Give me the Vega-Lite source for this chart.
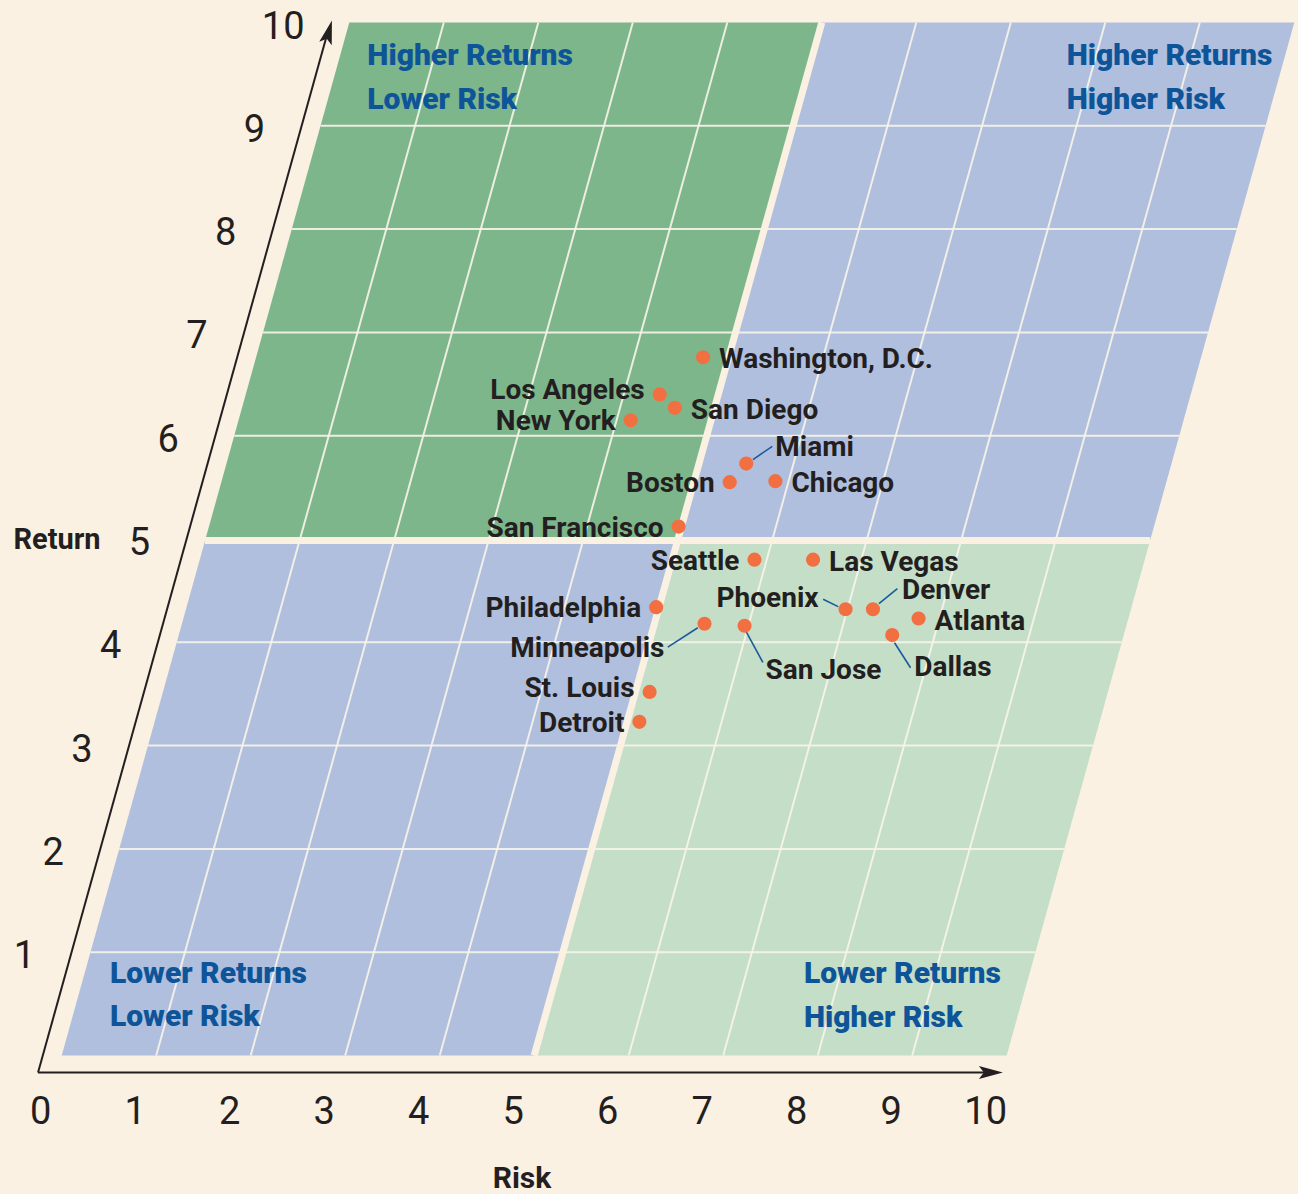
{
  "$schema": "https://vega.github.io/schema/vega-lite/v6.json",
  "width": 1298,
  "height": 1194,
  "autosize": {"type": "none"},
  "padding": 0,
  "background": "#faf1e2",
  "config": {"view": {"stroke": null}, "font": "Roboto, sans-serif"},
  "resolve": {"scale": {"shape": "independent"}},
  "datasets": {
    "quads": [
      {"q": "LL", "o": 0, "risk": 0, "ret": 0}, {"q": "LL", "o": 1, "risk": 5, "ret": 0}, {"q": "LL", "o": 2, "risk": 5, "ret": 5}, {"q": "LL", "o": 3, "risk": 0, "ret": 5},
      {"q": "LR", "o": 0, "risk": 5, "ret": 0}, {"q": "LR", "o": 1, "risk": 10, "ret": 0}, {"q": "LR", "o": 2, "risk": 10, "ret": 5}, {"q": "LR", "o": 3, "risk": 5, "ret": 5},
      {"q": "UL", "o": 0, "risk": 0, "ret": 5}, {"q": "UL", "o": 1, "risk": 5, "ret": 5}, {"q": "UL", "o": 2, "risk": 5, "ret": 10}, {"q": "UL", "o": 3, "risk": 0, "ret": 10},
      {"q": "UR", "o": 0, "risk": 5, "ret": 5}, {"q": "UR", "o": 1, "risk": 10, "ret": 5}, {"q": "UR", "o": 2, "risk": 10, "ret": 10}, {"q": "UR", "o": 3, "risk": 5, "ret": 10}
    ],
    "grid": [
      {"g": "v1", "risk": 1, "ret": 0}, {"g": "v1", "risk": 1, "ret": 10},
      {"g": "v2", "risk": 2, "ret": 0}, {"g": "v2", "risk": 2, "ret": 10},
      {"g": "v3", "risk": 3, "ret": 0}, {"g": "v3", "risk": 3, "ret": 10},
      {"g": "v4", "risk": 4, "ret": 0}, {"g": "v4", "risk": 4, "ret": 10},
      {"g": "v6", "risk": 6, "ret": 0}, {"g": "v6", "risk": 6, "ret": 10},
      {"g": "v7", "risk": 7, "ret": 0}, {"g": "v7", "risk": 7, "ret": 10},
      {"g": "v8", "risk": 8, "ret": 0}, {"g": "v8", "risk": 8, "ret": 10},
      {"g": "v9", "risk": 9, "ret": 0}, {"g": "v9", "risk": 9, "ret": 10},
      {"g": "h1", "risk": 0, "ret": 1}, {"g": "h1", "risk": 10, "ret": 1},
      {"g": "h2", "risk": 0, "ret": 2}, {"g": "h2", "risk": 10, "ret": 2},
      {"g": "h3", "risk": 0, "ret": 3}, {"g": "h3", "risk": 10, "ret": 3},
      {"g": "h4", "risk": 0, "ret": 4}, {"g": "h4", "risk": 10, "ret": 4},
      {"g": "h6", "risk": 0, "ret": 6}, {"g": "h6", "risk": 10, "ret": 6},
      {"g": "h7", "risk": 0, "ret": 7}, {"g": "h7", "risk": 10, "ret": 7},
      {"g": "h8", "risk": 0, "ret": 8}, {"g": "h8", "risk": 10, "ret": 8},
      {"g": "h9", "risk": 0, "ret": 9}, {"g": "h9", "risk": 10, "ret": 9}
    ],
    "gaps": [
      {"g": "v", "risk": 5, "ret": 0}, {"g": "v", "risk": 5, "ret": 10},
      {"g": "h", "risk": 0, "ret": 4.985}, {"g": "h", "risk": 10, "ret": 4.985}
    ],
    "axislines": [
      {"axis": "Risk", "o": 0, "risk": -0.2, "ret": -0.165}, {"axis": "Risk", "o": 1, "risk": 9.9, "ret": -0.165},
      {"axis": "Return", "o": 0, "risk": -0.2, "ret": -0.165}, {"axis": "Return", "o": 1, "risk": -0.2, "ret": 9.93}
    ],
    "arrows": [
      {"axis": "Risk", "risk": 10.01, "ret": -0.165},
      {"axis": "Return", "risk": -0.19, "ret": 10.02}
    ],
    "xticks": [
      {"v": 0}, {"v": 1}, {"v": 2}, {"v": 3}, {"v": 4}, {"v": 5}, {"v": 6}, {"v": 7}, {"v": 8}, {"v": 9}, {"v": 10}
    ],
    "yticks": [
      {"v": 1}, {"v": 2}, {"v": 3}, {"v": 4}, {"v": 5}, {"v": 6}, {"v": 7}, {"v": 8}, {"v": 9}, {"v": 10}
    ],
    "cities": [
      {"city": "Washington, D.C.", "risk": 4.73, "ret": 6.76},
      {"city": "Los Angeles", "risk": 4.38, "ret": 6.40},
      {"city": "San Diego", "risk": 4.58, "ret": 6.27},
      {"city": "New York", "risk": 4.15, "ret": 6.15},
      {"city": "Miami", "risk": 5.50, "ret": 5.73},
      {"city": "Boston", "risk": 5.38, "ret": 5.55},
      {"city": "Chicago", "risk": 5.86, "ret": 5.56},
      {"city": "San Francisco", "risk": 4.97, "ret": 5.12},
      {"city": "Seattle", "risk": 5.87, "ret": 4.80},
      {"city": "Las Vegas", "risk": 6.49, "ret": 4.80},
      {"city": "Phoenix", "risk": 6.98, "ret": 4.32},
      {"city": "Denver", "risk": 7.27, "ret": 4.32},
      {"city": "Atlanta", "risk": 7.78, "ret": 4.23},
      {"city": "Dallas", "risk": 7.55, "ret": 4.07},
      {"city": "Philadelphia", "risk": 4.97, "ret": 4.34},
      {"city": "Minneapolis", "risk": 5.53, "ret": 4.18},
      {"city": "San Jose", "risk": 5.96, "ret": 4.16},
      {"city": "St. Louis", "risk": 5.15, "ret": 3.52},
      {"city": "Detroit", "risk": 5.13, "ret": 3.23}
    ]
  },
  "layer": [
    {
      "data": {"name": "quads"},
      "mark": {"type": "line", "strokeWidth": 0, "interpolate": "linear-closed", "xOffset": {"expr": "datum.ret * 28.76"}},
      "encoding": {
        "x": {"field": "risk", "type": "quantitative", "scale": {"domain": [-0.6529, 13.0825], "nice": false, "zero": false}, "axis": null},
        "y": {"field": "ret", "type": "quantitative", "scale": {"domain": [-1.3408, 10.218], "nice": false, "zero": false}, "axis": null},
        "fill": {"field": "q", "type": "nominal", "scale": {"domain": ["LL", "LR", "UL", "UR"], "range": ["#b0bfdd", "#c4dec8", "#7db68b", "#b0bfdd"]}, "legend": null},
        "detail": {"field": "q"},
        "order": {"field": "o", "type": "quantitative"}
      }
    },
    {
      "data": {"name": "grid"},
      "mark": {"type": "line", "stroke": "#f8f4ea", "strokeWidth": 2, "opacity": 0.9, "xOffset": {"expr": "datum.ret * 28.76"}},
      "encoding": {
        "x": {"field": "risk", "type": "quantitative", "axis": null},
        "y": {"field": "ret", "type": "quantitative", "axis": null},
        "detail": {"field": "g"}
      }
    },
    {
      "data": {"name": "gaps"},
      "mark": {"type": "line", "stroke": "#faf1e2", "strokeWidth": 7, "xOffset": {"expr": "datum.ret * 28.76"}},
      "encoding": {
        "x": {"field": "risk", "type": "quantitative", "axis": null},
        "y": {"field": "ret", "type": "quantitative", "axis": null},
        "detail": {"field": "g"}
      }
    },
    {
      "data": {"name": "axislines"},
      "mark": {"type": "line", "stroke": "#231f20", "strokeWidth": 2, "xOffset": {"expr": "datum.ret * 28.76"}},
      "encoding": {
        "x": {"field": "risk", "type": "quantitative", "axis": null},
        "y": {"field": "ret", "type": "quantitative", "axis": null},
        "detail": {"field": "axis"},
        "order": {"field": "o", "type": "quantitative"}
      }
    },
    {
      "data": {"name": "arrows"},
      "mark": {"type": "point", "filled": true, "size": 4, "opacity": 1, "color": "#231f20", "xOffset": {"expr": "datum.ret * 28.76"}},
      "encoding": {
        "x": {"field": "risk", "type": "quantitative", "axis": null},
        "y": {"field": "ret", "type": "quantitative", "axis": null},
        "shape": {"field": "axis", "type": "nominal", "scale": {"domain": ["Risk", "Return"], "range": ["M0,0L-24,-6.5L-19,0L-24,6.5Z", "M0,0L-12.7,21.4L-5.1,18.3L-0.2,24.9Z"]}, "legend": null}
      }
    },
    {
      "data": {"name": "cities"},
      "transform": [{"filter": {"field": "city", "oneOf": ["Miami", "Phoenix", "Denver", "Dallas", "Minneapolis", "San Jose"]}}],
      "mark": {"type": "point", "filled": false, "size": 4, "opacity": 1, "color": "#1a5a9c", "strokeWidth": 1.6, "xOffset": {"expr": "datum.ret * 28.76"}},
      "encoding": {
        "x": {"field": "risk", "type": "quantitative", "axis": null},
        "y": {"field": "ret", "type": "quantitative", "axis": null},
        "shape": {"field": "city", "type": "nominal", "scale": {"domain": ["Miami", "Phoenix", "Denver", "Dallas", "Minneapolis", "San Jose"], "range": ["M6.7,-4L26,-17.3", "M-7.4,-2.6L-22.4,-10", "M6,-5.7L24.4,-20.7", "M2.3,7.7L18.3,32.7", "M-6.7,4L-36.7,23.4", "M1.7,6L18.3,36.6"]}, "legend": null}
      }
    },
    {
      "data": {"name": "cities"},
      "mark": {"type": "circle", "size": 200, "opacity": 1, "color": "#f26f42", "xOffset": {"expr": "datum.ret * 28.76"}},
      "encoding": {
        "x": {"field": "risk", "type": "quantitative", "axis": null},
        "y": {"field": "ret", "type": "quantitative", "axis": null}
      }
    },
    {
      "data": {"name": "cities"},
      "transform": [{"filter": {"field": "city", "oneOf": ["Washington, D.C.", "San Diego", "Chicago", "Las Vegas", "Atlanta"]}}],
      "mark": {"type": "text", "align": "left", "baseline": "middle", "dx": 16, "dy": 3, "fontSize": 28, "fontWeight": "bold", "color": "#231f20", "xOffset": {"expr": "datum.ret * 28.76"}},
      "encoding": {"x": {"field": "risk", "type": "quantitative", "axis": null}, "y": {"field": "ret", "type": "quantitative", "axis": null}, "text": {"field": "city"}}
    },
    {
      "data": {"name": "cities"},
      "transform": [{"filter": {"field": "city", "oneOf": ["New York", "Boston", "San Francisco", "Seattle", "Philadelphia", "Detroit"]}}],
      "mark": {"type": "text", "align": "right", "baseline": "middle", "dx": -15, "dy": 2, "fontSize": 28, "fontWeight": "bold", "color": "#231f20", "xOffset": {"expr": "datum.ret * 28.76"}},
      "encoding": {"x": {"field": "risk", "type": "quantitative", "axis": null}, "y": {"field": "ret", "type": "quantitative", "axis": null}, "text": {"field": "city"}}
    },
    {
      "data": {"name": "cities"},
      "transform": [{"filter": {"field": "city", "oneOf": ["Los Angeles", "St. Louis"]}}],
      "mark": {"type": "text", "align": "right", "baseline": "middle", "dx": -15, "dy": -3, "fontSize": 28, "fontWeight": "bold", "color": "#231f20", "xOffset": {"expr": "datum.ret * 28.76"}},
      "encoding": {"x": {"field": "risk", "type": "quantitative", "axis": null}, "y": {"field": "ret", "type": "quantitative", "axis": null}, "text": {"field": "city"}}
    },
    {
      "data": {"name": "cities"},
      "transform": [{"filter": {"field": "city", "equal": "Miami"}}],
      "mark": {"type": "text", "align": "left", "baseline": "middle", "dx": 29, "dy": -16, "fontSize": 28, "fontWeight": "bold", "color": "#231f20", "xOffset": {"expr": "datum.ret * 28.76"}},
      "encoding": {"x": {"field": "risk", "type": "quantitative", "axis": null}, "y": {"field": "ret", "type": "quantitative", "axis": null}, "text": {"field": "city"}}
    },
    {
      "data": {"name": "cities"},
      "transform": [{"filter": {"field": "city", "equal": "Phoenix"}}],
      "mark": {"type": "text", "align": "right", "baseline": "middle", "dx": -27, "dy": -10, "fontSize": 28, "fontWeight": "bold", "color": "#231f20", "xOffset": {"expr": "datum.ret * 28.76"}},
      "encoding": {"x": {"field": "risk", "type": "quantitative", "axis": null}, "y": {"field": "ret", "type": "quantitative", "axis": null}, "text": {"field": "city"}}
    },
    {
      "data": {"name": "cities"},
      "transform": [{"filter": {"field": "city", "equal": "Denver"}}],
      "mark": {"type": "text", "align": "left", "baseline": "middle", "dx": 29, "dy": -18, "fontSize": 28, "fontWeight": "bold", "color": "#231f20", "xOffset": {"expr": "datum.ret * 28.76"}},
      "encoding": {"x": {"field": "risk", "type": "quantitative", "axis": null}, "y": {"field": "ret", "type": "quantitative", "axis": null}, "text": {"field": "city"}}
    },
    {
      "data": {"name": "cities"},
      "transform": [{"filter": {"field": "city", "equal": "Dallas"}}],
      "mark": {"type": "text", "align": "left", "baseline": "middle", "dx": 22, "dy": 33, "fontSize": 28, "fontWeight": "bold", "color": "#231f20", "xOffset": {"expr": "datum.ret * 28.76"}},
      "encoding": {"x": {"field": "risk", "type": "quantitative", "axis": null}, "y": {"field": "ret", "type": "quantitative", "axis": null}, "text": {"field": "city"}}
    },
    {
      "data": {"name": "cities"},
      "transform": [{"filter": {"field": "city", "equal": "Minneapolis"}}],
      "mark": {"type": "text", "align": "right", "baseline": "middle", "dx": -40, "dy": 25, "fontSize": 28, "fontWeight": "bold", "color": "#231f20", "xOffset": {"expr": "datum.ret * 28.76"}},
      "encoding": {"x": {"field": "risk", "type": "quantitative", "axis": null}, "y": {"field": "ret", "type": "quantitative", "axis": null}, "text": {"field": "city"}}
    },
    {
      "data": {"name": "cities"},
      "transform": [{"filter": {"field": "city", "equal": "San Jose"}}],
      "mark": {"type": "text", "align": "left", "baseline": "middle", "dx": 21, "dy": 45, "fontSize": 28, "fontWeight": "bold", "color": "#231f20", "xOffset": {"expr": "datum.ret * 28.76"}},
      "encoding": {"x": {"field": "risk", "type": "quantitative", "axis": null}, "y": {"field": "ret", "type": "quantitative", "axis": null}, "text": {"field": "city"}}
    },
    {
      "data": {"name": "xticks"},
      "mark": {"type": "text", "align": "center", "baseline": "middle", "dx": -21, "dy": 40, "fontSize": 38, "color": "#231f20"},
      "encoding": {
        "x": {"field": "v", "type": "quantitative", "axis": null},
        "y": {"datum": -0.165, "type": "quantitative", "axis": null},
        "text": {"field": "v", "type": "quantitative"}
      }
    },
    {
      "data": {"name": "yticks"},
      "mark": {"type": "text", "align": "center", "baseline": "middle", "dy": 5, "fontSize": 38, "color": "#231f20", "xOffset": {"expr": "datum.v * 28.76"}},
      "encoding": {
        "x": {"datum": -0.70, "type": "quantitative", "axis": null},
        "y": {"field": "v", "type": "quantitative", "axis": null},
        "text": {"field": "v", "type": "quantitative"}
      }
    },
    {
      "data": {"values": [{}]},
      "mark": {"type": "text", "align": "center", "baseline": "middle", "fontSize": 30, "fontWeight": "bold", "color": "#231f20", "text": "Risk"},
      "encoding": {
        "x": {"datum": 4.871, "type": "quantitative", "axis": null},
        "y": {"datum": -1.192, "type": "quantitative", "axis": null}
      }
    },
    {
      "data": {"values": [{}]},
      "mark": {"type": "text", "align": "center", "baseline": "middle", "fontSize": 29, "fontWeight": "bold", "color": "#231f20", "text": "Return"},
      "encoding": {
        "x": {"datum": -0.05, "type": "quantitative", "axis": null},
        "y": {"datum": 4.988, "type": "quantitative", "axis": null}
      }
    },
    {
      "data": {"values": [{}]},
      "mark": {"type": "text", "align": "left", "baseline": "alphabetic", "fontSize": 30, "fontWeight": 900, "color": "#0d5499", "lineHeight": 44.5, "text": ["Higher Returns", "Lower Risk"]},
      "encoding": {
        "x": {"datum": 3.234, "type": "quantitative", "axis": null},
        "y": {"datum": 9.589, "type": "quantitative", "axis": null}
      }
    },
    {
      "data": {"values": [{}]},
      "mark": {"type": "text", "align": "left", "baseline": "alphabetic", "fontSize": 30, "fontWeight": 900, "color": "#0d5499", "lineHeight": 44.5, "text": ["Higher Returns", "Higher Risk"]},
      "encoding": {
        "x": {"datum": 10.635, "type": "quantitative", "axis": null},
        "y": {"datum": 9.589, "type": "quantitative", "axis": null}
      }
    },
    {
      "data": {"values": [{}]},
      "mark": {"type": "text", "align": "left", "baseline": "alphabetic", "fontSize": 30, "fontWeight": 900, "color": "#0d5499", "lineHeight": 43.5, "text": ["Lower Returns", "Lower Risk"]},
      "encoding": {
        "x": {"datum": 0.511, "type": "quantitative", "axis": null},
        "y": {"datum": 0.705, "type": "quantitative", "axis": null}
      }
    },
    {
      "data": {"values": [{}]},
      "mark": {"type": "text", "align": "left", "baseline": "alphabetic", "fontSize": 30, "fontWeight": 900, "color": "#0d5499", "lineHeight": 43.5, "text": ["Lower Returns", "Higher Risk"]},
      "encoding": {
        "x": {"datum": 7.855, "type": "quantitative", "axis": null},
        "y": {"datum": 0.699, "type": "quantitative", "axis": null}
      }
    }
  ]
}
